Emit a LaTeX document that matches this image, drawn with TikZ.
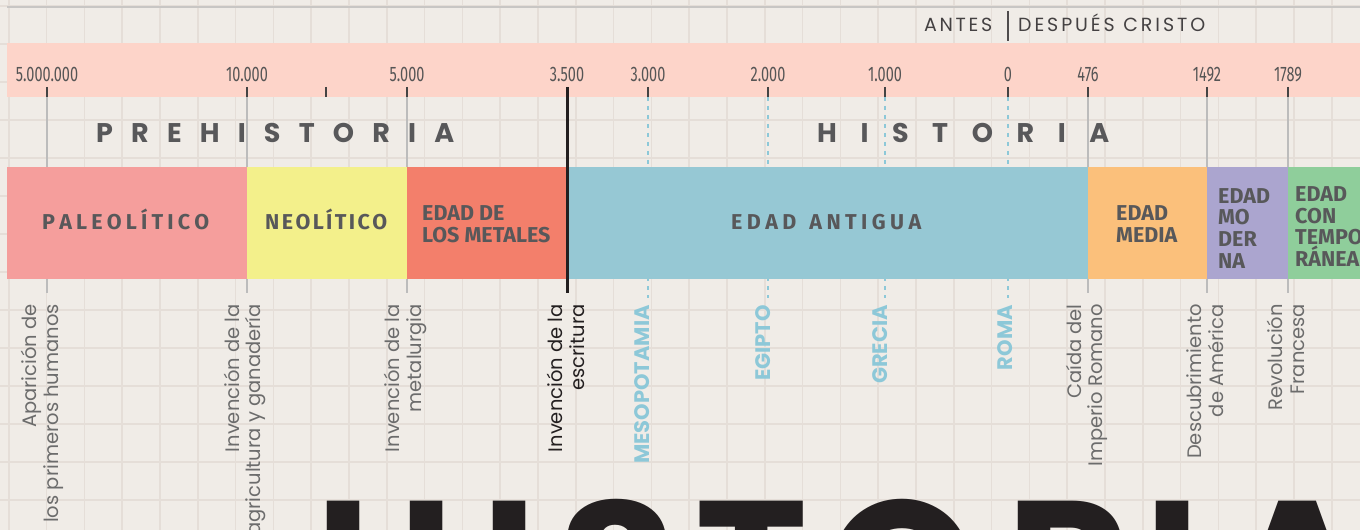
\documentclass[tikz,border=0pt]{standalone}
\usepackage{fontspec}
\usepackage{graphicx}
\setmainfont{Poppins}
\newfontfamily\pop{Poppins}
\newfontfamily\fira{Fira Sans}
\definecolor{bgc}{HTML}{F0ECE7}
\definecolor{gridc}{HTML}{E5DED8}
\definecolor{toplinec}{HTML}{C8C6C4}
\definecolor{bandc}{HTML}{FDD4C9}
\definecolor{paleoc}{HTML}{F59E9C}
\definecolor{neoc}{HTML}{F3F08B}
\definecolor{metalc}{HTML}{F37F6B}
\definecolor{antiguac}{HTML}{96C8D4}
\definecolor{mediac}{HTML}{FBC07B}
\definecolor{modernac}{HTML}{ABA5CF}
\definecolor{contempc}{HTML}{8FCE9B}
\definecolor{txtc}{HTML}{58585A}
\definecolor{labc}{HTML}{6C6C6C}
\definecolor{bluec}{HTML}{8DC8D8}
\definecolor{darkc}{HTML}{231F20}
\definecolor{yearc}{HTML}{555555}
\definecolor{evc}{HTML}{BCBCBC}
\newcommand\spreadbox[2]{\makebox[#1][s]{#2}}
\tikzset{
  gridline/.style={draw=gridc, line width=1.6bp},
  tickmark/.style={draw=yearc!80!black, line width=1.4bp},
  year/.style={anchor=base, inner sep=0, text=yearc, font=\fira\fontsize{21bp}{21bp}\selectfont},
  evline/.style={draw=evc, line width=1.4bp},
  blueline/.style={draw=bluec, line width=1.4bp, dash pattern=on 4bp off 5bp},
  block/.style={anchor=north west, inner sep=0, minimum height=112bp},
  era/.style={anchor=base west, inner sep=0, text=txtc, font=\pop\bfseries\fontsize{27bp}{27bp}\selectfont},
  blocktxt/.style={inner sep=0, text=txtc, font=\fira\bfseries\fontsize{21.5bp}{21.7bp}\selectfont},
  multitxt/.style={blocktxt, anchor=north west, align=left},
  rotlab/.style={rotate=90, anchor=east, align=right, inner sep=0, text=labc, font=\pop\fontsize{19.5bp}{21.5bp}\selectfont},
  bluelab/.style={rotate=90, anchor=east, inner sep=0, text=bluec, font=\pop\bfseries\fontsize{21bp}{21bp}\selectfont},
  bigl/.style={inner sep=0, text=darkc, font=\pop\bfseries\fontsize{190bp}{190bp}\selectfont},
  acdc/.style={anchor=base west, inner sep=0, text=darkc!85, font=\pop\fontsize{19bp}{19bp}\selectfont}
}
\begin{document}
\begin{tikzpicture}[x=1bp,y=-1bp]
\useasboundingbox (0,0) rectangle (1360,530);
\fill[bgc] (0,0) rectangle (1360,530);
% grid
\foreach \i in {0,...,35} \draw[gridline] ({8.7+37.8*\i},0) -- ({8.7+37.8*\i},530);
\foreach \j in {0,...,13} \draw[gridline] (0,{6+38*\j}) -- (1360,{6+38*\j});
% top line
\coordinate (tl1) at (7,7);
\coordinate (tl2) at (1360,7);
\draw[draw=toplinec, line width=2.5bp] (tl1) -- (tl2);
% antes / despues
\node[acdc] (antes) at (924,32) {\spreadbox{68bp}{A\hfil N\hfil T\hfil E\hfil S}};
\node[acdc] (despues) at (1018,32) {\spreadbox{187bp}{D\hfil E\hfil S\hfil P\hfil U\hfil É\hfil S\hfil\hfil\hfil C\hfil R\hfil I\hfil S\hfil T\hfil O}};
\coordinate (dv1) at (1008,11);
\coordinate (dv2) at (1008,41);
\draw[draw=darkc!80, line width=1.4bp] (dv1) -- (dv2);
% band
\fill[bandc] (7,43) rectangle (1360,97);
% event lines behind blocks
\foreach \n/\x in {a/47, b/247, c/407, i/1088, j/1207, k/1288} {
  \coordinate (top\n) at (\x,97);
  \coordinate (bot\n) at (\x,293);
  \draw[evline] (top\n) -- (bot\n);
}
\foreach \n/\x in {e/648, f/768, g/885, h/1008} {
  \coordinate (top\n) at (\x,97);
  \coordinate (bot\n) at (\x,298);
  \draw[blueline] (top\n) -- (bot\n);
}
% ticks and year labels
\foreach \n/\x/\lab in {a/47/5.000.000, b/247/10.000, c/407/5.000, d/567/3.500, e/648/3.000, f/768/2.000, g/885/1.000, h/1008/0, i/1088/476, j/1207/1492, k/1288/1789} {
  \coordinate (tk\n) at (\x,87);
  \coordinate (tb\n) at (\x,97);
  \draw[tickmark] (tk\n) -- (tb\n);
  \node[year] (yr\n) at (\x,81.5) {\scalebox{0.69}[1]{\lab}};
}
\coordinate (tkx) at (326,87);
\coordinate (tbx) at (326,97);
\draw[tickmark] (tkx) -- (tbx);
% era titles
\node[era] (prehist) at (96,142.5) {\spreadbox{358bp}{P\hfil R\hfil E\hfil H\hfil I\hfil S\hfil T\hfil O\hfil R\hfil I\hfil A}};
\node[era] (hist) at (817,142.5) {\spreadbox{292bp}{H\hfil I\hfil S\hfil T\hfil O\hfil R\hfil I\hfil A}};
% blocks
\node[block, fill=paleoc, minimum width=240bp] (paleo) at (7,167) {};
\node[block, fill=neoc, minimum width=160bp] (neo) at (247,167) {};
\node[block, fill=metalc, minimum width=160bp] (metal) at (407,167) {};
\node[block, fill=antiguac, minimum width=521bp] (antigua) at (567,167) {};
\node[block, fill=mediac, minimum width=119bp] (media) at (1088,167) {};
\node[block, fill=modernac, minimum width=81bp] (moderna) at (1207,167) {};
\node[block, fill=contempc, minimum width=72bp] (contemp) at (1288,167) {};
% block texts
\node[blocktxt, anchor=base west] (tpaleo) at (42,230) {\spreadbox{167bp}{P\hfil A\hfil L\hfil E\hfil O\hfil L\hfil Í\hfil T\hfil I\hfil C\hfil O}};
\node[blocktxt, anchor=base west] (tneo) at (265,230) {\spreadbox{122bp}{N\hfil E\hfil O\hfil L\hfil Í\hfil T\hfil I\hfil C\hfil O}};
\node[blocktxt, anchor=base west] (tantigua) at (731,230) {\spreadbox{190bp}{E\hfil D\hfil A\hfil D\hfil\hfil\hfil A\hfil N\hfil T\hfil I\hfil G\hfil U\hfil A}};
\node[multitxt] (tmetal) at (422,205.5) {EDAD DE\\LOS METALES};
\node[multitxt] (tmedia) at (1116,205.5) {EDAD\\MEDIA};
\node[multitxt] (tmoderna) at (1218,188) {EDAD\\MO\\DER\\NA};
\node[multitxt] (tcontemp) at (1295,186.5) {EDAD\\CON\\TEMPO\\RÁNEA};
% writing line
\coordinate (wtop) at (567,87);
\coordinate (wbot) at (567,293);
\draw[draw=darkc, line width=3bp] (wtop) -- (wbot);
% rotated labels
\node[rotlab] (la) at (42.5,304) {Aparición de\\los primeros humanos};
\node[rotlab] (lb) at (245,304) {Invención de la\\agricultura y ganadería};
\node[rotlab] (lc) at (405.5,304) {Invención de la\\metalurgia};
\node[rotlab, text=darkc] (ld) at (566,304) {Invención de la\\escritura};
\node[rotlab] (li) at (1087,304) {Caída del\\Imperio Romano};
\node[rotlab] (lj) at (1205,304) {Descubrimiento\\de América};
\node[rotlab] (lk) at (1286,304) {Revolución\\Francesa};
\node[bluelab] (le) at (642.5,305) {MESOPOTAMIA};
\node[bluelab] (lf) at (763,305) {EGIPTO};
\node[bluelab] (lg) at (880.5,305) {GRECIA};
\node[bluelab] (lh) at (1005,305) {ROMA};
% big title
\node[bigl, anchor=north] (bigH) at (384.5,501) {H};
\foreach \n/\x/\l in {1/509.5/I, 2/618/S, 3/752/T, 4/902.5/O, 5/1068/R, 6/1172.5/I, 7/1297/A} {
  \coordinate (col\n) at (\x,0);
  \node[bigl, anchor=base] (big\n) at (bigH.base -| col\n) {\l};
}
\end{tikzpicture}
\end{document}
